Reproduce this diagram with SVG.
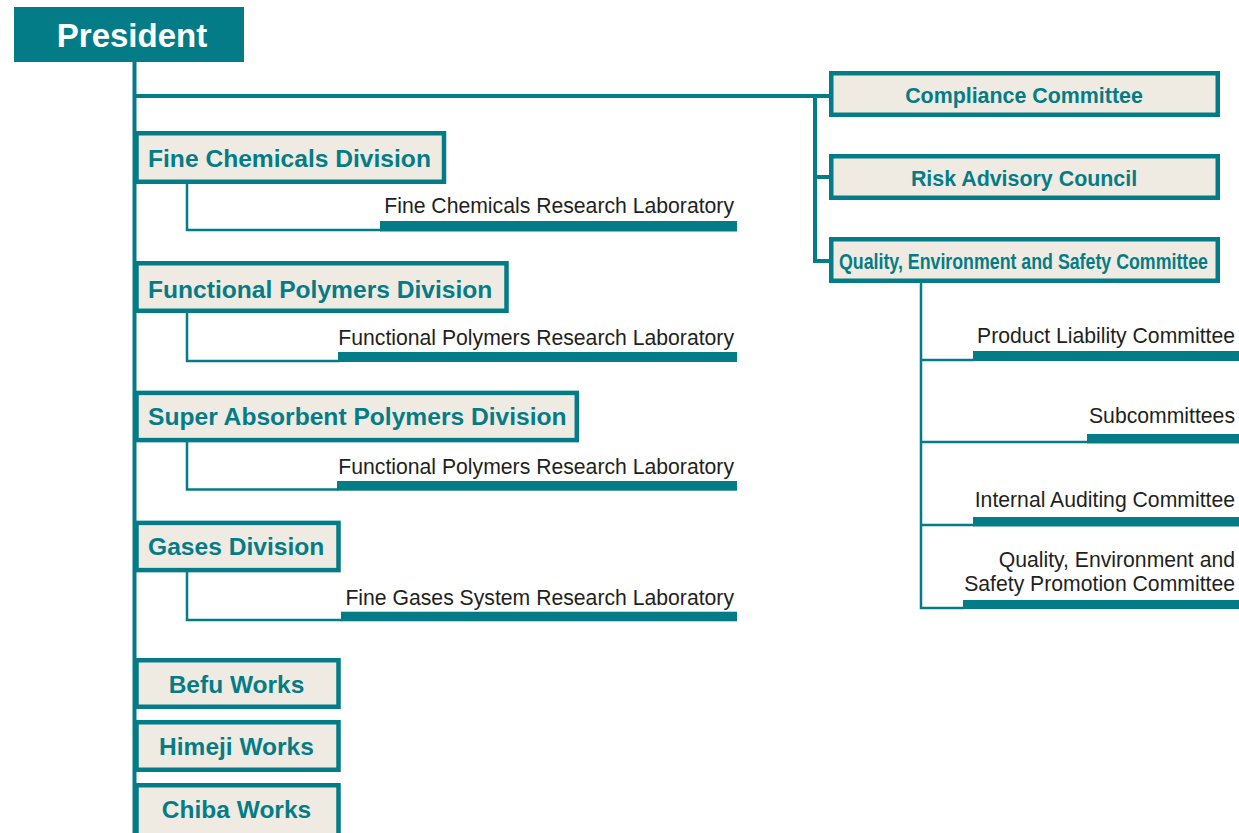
<svg xmlns="http://www.w3.org/2000/svg" width="1239" height="833" viewBox="0 0 1239 833">
  <style>
    .box { fill: #efebe2; stroke: #047c87; stroke-width: 4.5; }
    .head { fill: #047c87; }
    .ttl { font-family: "Liberation Sans", Arial, sans-serif; font-weight: bold; fill: #047c87; }
    .div { font-size: 24.6px; }
    .lab { font-family: "Liberation Sans", Arial, sans-serif; font-size: 21.2px; fill: #231f20; text-anchor: end; }
    .main { stroke: #047c87; stroke-width: 4; fill: none; }
    .thin { stroke: #047c87; stroke-width: 2.5; fill: none; }
    .bar { fill: #047c87; }
  </style>

  <!-- connectors -->
  <g id="connectors">
    <line class="main" x1="134.5" y1="60" x2="134.5" y2="833"/>
    <line class="main" x1="134.5" y1="96" x2="831" y2="96"/>
    <polyline class="main" points="815,96 815,261 831,261"/>
    <line class="main" x1="815" y1="177" x2="831" y2="177"/>
    <!-- division to laboratory links -->
    <polyline class="thin" points="187,184 187,230 381,230"/>
    <polyline class="thin" points="187,313 187,361 340,361"/>
    <polyline class="thin" points="187,442 187,489.5 338,489.5"/>
    <polyline class="thin" points="187,572 187,620 342,620"/>
    <!-- committee sub-items -->
    <polyline class="thin" points="921,283 921,608 964,608"/>
    <line class="thin" x1="921" y1="360" x2="974" y2="360"/>
    <line class="thin" x1="921" y1="442" x2="1088" y2="442"/>
    <line class="thin" x1="921" y1="525" x2="974" y2="525"/>
  </g>

  <g id="president">
    <rect class="head" x="14" y="7" width="230" height="55"/>
    <text x="132" y="47" font-family="Liberation Sans, Arial, sans-serif" font-weight="bold" font-size="33" fill="#ffffff" text-anchor="middle">President</text>
  </g>

  <g id="fine-chemicals-division">
    <rect class="box" x="136.5" y="133.25" width="307.5" height="48.5"/>
    <text class="ttl div" x="148" y="167">Fine Chemicals Division</text>
  </g>
  <g id="fine-chemicals-lab">
    <rect class="bar" x="380" y="221" width="357" height="10.5"/>
    <text class="lab" x="734" y="213">Fine Chemicals Research Laboratory</text>
  </g>

  <g id="functional-polymers-division">
    <rect class="box" x="136.5" y="263.25" width="370" height="47.5"/>
    <text class="ttl div" x="148" y="298">Functional Polymers Division</text>
  </g>
  <g id="functional-polymers-lab-1">
    <rect class="bar" x="338" y="352" width="399" height="10"/>
    <text class="lab" x="734" y="345">Functional Polymers Research Laboratory</text>
  </g>

  <g id="super-absorbent-division">
    <rect class="box" x="136.5" y="392.9" width="440.3" height="47.2"/>
    <text class="ttl div" x="148" y="425">Super Absorbent Polymers Division</text>
  </g>
  <g id="functional-polymers-lab-2">
    <rect class="bar" x="337" y="481" width="400" height="9.7"/>
    <text class="lab" x="734" y="474">Functional Polymers Research Laboratory</text>
  </g>

  <g id="gases-division">
    <rect class="box" x="136.5" y="522.9" width="202" height="47.2"/>
    <text class="ttl div" x="148" y="555">Gases Division</text>
  </g>
  <g id="fine-gases-lab">
    <rect class="bar" x="341" y="611.7" width="396" height="9.6"/>
    <text class="lab" x="734" y="605">Fine Gases System Research Laboratory</text>
  </g>

  <g id="befu-works">
    <rect class="box" x="136.5" y="660.25" width="202" height="46.5"/>
    <text class="ttl" x="236.5" y="693" font-size="24.5" text-anchor="middle">Befu Works</text>
  </g>
  <g id="himeji-works">
    <rect class="box" x="136.5" y="722.25" width="202" height="47.5"/>
    <text class="ttl" x="236.5" y="755" font-size="24.5" text-anchor="middle">Himeji Works</text>
  </g>
  <g id="chiba-works">
    <rect class="box" x="136.5" y="785.25" width="202" height="52"/>
    <text class="ttl" x="236.5" y="818" font-size="24.5" text-anchor="middle">Chiba Works</text>
  </g>

  <g id="compliance-committee">
    <rect class="box" x="831.25" y="73.25" width="386.5" height="41.5"/>
    <text class="ttl" x="1024" y="103" font-size="21.4" text-anchor="middle">Compliance Committee</text>
  </g>
  <g id="risk-advisory-council">
    <rect class="box" x="831.25" y="156.25" width="386.5" height="41.5"/>
    <text class="ttl" x="1024" y="186" font-size="21.4" text-anchor="middle">Risk Advisory Council</text>
  </g>
  <g id="qes-committee">
    <rect class="box" x="831.25" y="239.25" width="386.5" height="41.5"/>
    <!-- condensed bold: compressed horizontally to fit the box -->
    <text class="ttl" x="839" y="269" font-size="22" textLength="369" lengthAdjust="spacingAndGlyphs">Quality, Environment and Safety Committee</text>
  </g>

  <g id="product-liability-committee">
    <rect class="bar" x="973" y="351" width="266" height="10"/>
    <text class="lab" x="1235" y="343">Product Liability Committee</text>
  </g>
  <g id="subcommittees">
    <rect class="bar" x="1087" y="434" width="152" height="9.5"/>
    <text class="lab" x="1235" y="423">Subcommittees</text>
  </g>
  <g id="internal-auditing-committee">
    <rect class="bar" x="973" y="517" width="266" height="9.5"/>
    <text class="lab" x="1235" y="507">Internal Auditing Committee</text>
  </g>
  <g id="qes-promotion-committee">
    <rect class="bar" x="963" y="600" width="276" height="9"/>
    <text class="lab" x="1235" y="567">Quality, Environment and</text>
    <text class="lab" x="1235" y="591">Safety Promotion Committee</text>
  </g>
</svg>
